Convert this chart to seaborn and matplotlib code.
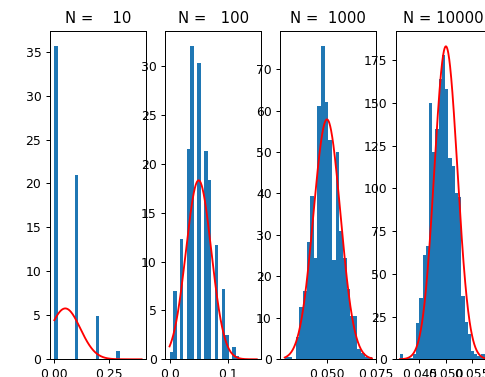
import numpy as np
import pandas as pd
import matplotlib
matplotlib.use("Agg")
import matplotlib.pyplot as plt
import seaborn as sns

# Sample sizes and true proportion
N_values = [10, 100, 1000, 10000]
p = 0.05

# Histogram of sample proportions per panel (density values)
hist_ranges = [(0.0, 0.3), (0.0, 0.12), (0.0284, 0.0730), (0.0413, 0.0578)]
heights_10 = [35.6, 0, 0, 0, 0, 0, 21.0, 0, 0, 0, 0, 0, 4.9, 0, 0, 0, 0, 0, 1.0]
heights_100 = [0.7, 7.0, 0, 12.3, 0, 21.5, 32.0, 0, 30.3, 0, 21.3, 18.3, 0, 11.7, 0,
               7.2, 2.5, 0, 1.3, 0.3]
heights_1000 = [0.5, 0.5, 0, 5.5, 12.7, 16.5, 28.3, 39.5, 24.5, 61, 75.5, 62, 53, 24,
                50, 31, 24.5, 17, 10.5, 10.5, 2.6, 1.6, 0.5, 0.5]
heights_10000 = [3, 0, 0.5, 1, 3, 21, 36, 61, 66, 150, 121, 134.5, 164, 178, 158, 118,
                 113, 97, 95, 37, 22, 15, 5, 3, 2, 3, 3]
all_heights = [heights_10, heights_100, heights_1000, heights_10000]

# x span of the normal curve in each panel
curve_lo = [0.0, 0.0, 0.0284, 0.0413]
curve_hi = [0.4, 0.15, 0.0730, 0.0578]

fig, axes = plt.subplots(1, 4, figsize=(485 / 89, 377 / 89), dpi=89)
fig.subplots_adjust(left=50 / 485, right=491.5 / 485, bottom=17.7 / 377,
                    top=346.3 / 377, wspace=0.2)

for ax, n, (lo, hi), heights, c_lo, c_hi in zip(axes, N_values, hist_ranges,
                                                all_heights, curve_lo, curve_hi):
    nbins = len(heights)
    width = (hi - lo) / nbins
    df = pd.DataFrame({"prop": lo + width * (np.arange(nbins) + 0.5),
                       "density": heights})
    sns.histplot(data=df, x="prop", weights="density", bins=nbins,
                 binrange=(lo, hi), stat="count", ax=ax,
                 color="#1f77b4", alpha=1, linewidth=0)

    # normal approximation of the sampling distribution
    sd = np.sqrt(p * (1 - p) / n)
    xs = np.linspace(c_lo, c_hi, 300)
    ys = np.exp(-0.5 * ((xs - p) / sd) ** 2) / (sd * np.sqrt(2 * np.pi))
    ax.plot(xs, ys, color="red", linewidth=1.5)

    ax.set_xlabel("")
    ax.set_ylabel("")
    ax.set_title("N = %5d" % n)

fig.savefig("out.png", dpi=89)
